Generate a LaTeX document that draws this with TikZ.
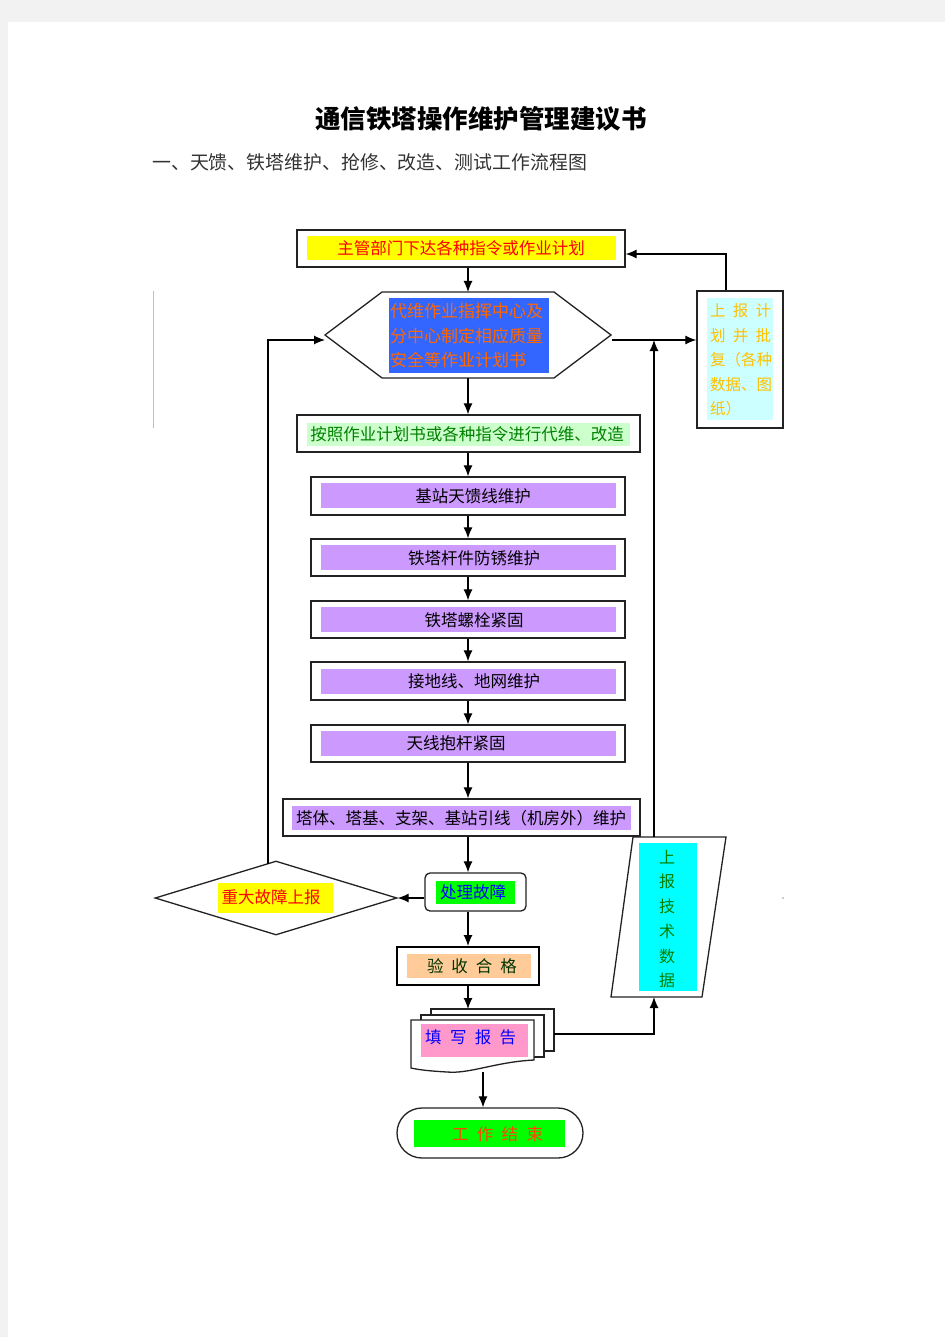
\documentclass[tikz,border=0pt]{standalone}
\usepackage{fontspec}
\setmainfont{Noto Sans CJK SC}
\usetikzlibrary{arrows.meta,shapes.geometric}
\definecolor{bggrey}{HTML}{F2F2F2}
\definecolor{cyellow}{HTML}{FFFF00}
\definecolor{cblue}{HTML}{3366FF}
\definecolor{corange}{HTML}{FF6600}
\definecolor{clcyan}{HTML}{CCFFFF}
\definecolor{cgold}{HTML}{FFC000}
\definecolor{clgreen}{HTML}{CCFFCC}
\definecolor{cgreen}{HTML}{008000}
\definecolor{cpurple}{HTML}{CC99FF}
\definecolor{cpeach}{HTML}{FFCC99}
\definecolor{cdkgreen}{HTML}{003300}
\definecolor{cpink}{HTML}{FF99CC}
\definecolor{ctblue}{HTML}{0000FF}
\definecolor{cbright}{HTML}{00FF00}
\definecolor{ccyan}{HTML}{00FFFF}
\definecolor{cendtxt}{HTML}{FF4400}
\definecolor{cline}{HTML}{222222}
\begin{document}
\begin{tikzpicture}[x=1pt,y=-1pt,
  outer/.style={draw=cline, line width=1.3pt, fill=white, inner sep=0pt},
  txt/.style={inner sep=0pt, font=\fontsize{16.5}{18}\selectfont},
  arr/.style={draw=black, line width=1.2pt, -{Latex[length=11pt,width=9pt]}},
  link/.style={draw=black, line width=1.2pt}]
\useasboundingbox (0,0) rectangle (945,1337);
\fill[bggrey] (0,0) rectangle (945,1337);
\fill[white] (8,22) rectangle (945,1337);

% title
\node[inner sep=0pt, font=\fontsize{25.5}{28}\selectfont\bfseries] (title) at (481,119) {通信铁塔操作维护管理建议书};
\node[inner sep=0pt, anchor=west, text=black!80, font=\fontsize{18.9}{21}\selectfont] (sub) at (152,162) {一、天馈、铁塔维护、抢修、改造、测试工作流程图};

% decorative grey line
\draw[black!25, line width=0.8pt] (153,291) -- (153,428);
\fill[black!40] (783,898) circle (0.8);

\coordinate (axis) at (468,0);

% box 1
\node[outer, minimum width=328, minimum height=37] (b1) at (461,248.5) {};
\fill[cyellow] (307,236) rectangle (616,260);
\node[txt, text=red] (t1) at (461,248) {主管部门下达各种指令或作业计划};

% hexagon
\draw[draw=cline, line width=1.3pt, fill=white] (325,335) -- (382,292) -- (554,292) -- (611,335) -- (554,378) -- (382,378) -- cycle;
\coordinate (hexT) at (468,292);
\coordinate (hexB) at (468,378);
\coordinate (hexL) at (325,340);
\coordinate (hexR) at (612,340);
\fill[cblue] (389,298) rectangle (549,373);
\node[txt, anchor=west, text=corange, font=\fontsize{17}{18}\selectfont] (h1) at (390,311) {代维作业指挥中心及};
\node[txt, anchor=west, text=corange, font=\fontsize{17}{18}\selectfont] (h2) at (390,336) {分中心制定相应质量};
\node[txt, anchor=west, text=corange, font=\fontsize{17}{18}\selectfont] (h3) at (390,360) {安全等作业计划书};

% right box
\node[outer, minimum width=86, minimum height=137] (rb) at (740,359.5) {};
\fill[clcyan] (707,298) rectangle (773,420);
\begin{scope}[every node/.style={txt, anchor=west, text=cgold, font=\fontsize{15.5}{17}\selectfont}]
\node (r1) at (710,311) {\makebox[61pt][s]{上\hfill 报\hfill 计}};
\node (r2) at (710,336) {\makebox[61pt][s]{划\hfill 并\hfill 批}};
\node (r3) at (710,360) {复（各种};
\node (r4) at (710,385) {数据、图};
\node (r5) at (710,409) {纸）};
\end{scope}

% box A
\node[outer, minimum width=343, minimum height=37] (bA) at (468.5,433.5) {};
\fill[clgreen] (307,423) rectangle (630,446);
\node[txt, text=cgreen] (tA) at (467,434) {按照作业计划书或各种指令进行代维、改造};

% purple boxes
\node[outer, minimum width=314, minimum height=38] (b2) at (468,496) {};
\fill[cpurple] (321,483) rectangle (616,508);
\node[txt] (t2) at (473,496) {基站天馈线维护};

\node[outer, minimum width=314, minimum height=37] (b3) at (468,557.5) {};
\fill[cpurple] (321,545) rectangle (616,570);
\node[txt] (t3) at (474,558) {铁塔杆件防锈维护};

\node[outer, minimum width=314, minimum height=37] (b4) at (468,619.5) {};
\fill[cpurple] (321,607) rectangle (616,632);
\node[txt] (t4) at (474,620) {铁塔螺栓紧固};

\node[outer, minimum width=314, minimum height=38] (b5) at (468,681) {};
\fill[cpurple] (321,669) rectangle (616,694);
\node[txt] (t5) at (474,681) {接地线、地网维护};

\node[outer, minimum width=314, minimum height=37] (b6) at (468,743.5) {};
\fill[cpurple] (321,731) rectangle (616,756);
\node[txt] (t6) at (456,743) {天线抱杆紧固};

\node[outer, minimum width=357, minimum height=37] (b7) at (461.5,817.5) {};
\fill[cpurple] (292,806) rectangle (631,830);
\node[txt] (t7) at (461,818) {塔体、塔基、支架、基站引线（机房外）维护};

% process fault
\node[outer, rounded corners=5pt, minimum width=101, minimum height=38] (proc) at (475.5,892) {};
\fill[cbright] (436,881) rectangle (515,904);
\node[txt, text=ctblue] (tp) at (473,892) {处理故障};

% diamond
\node[draw=cline, line width=1.3pt, fill=white, diamond, aspect=3.27, minimum width=242, minimum height=74, inner sep=0pt] (dia) at (276,898) {};
\fill[cyellow] (218,883) rectangle (333,913);
\node[txt, text=red] (td) at (271,897) {重大故障上报};

% acceptance
\node[draw=black, line width=2pt, fill=white, minimum width=142, minimum height=38, inner sep=0pt] (acc) at (468,966) {};
\fill[cpeach] (407,954) rectangle (531,978);
\node[txt, text=cdkgreen] (ta) at (472,966) {\makebox[90pt][s]{验\hfill 收\hfill 合\hfill 格}};

% report (multi document)
\node[outer, minimum width=123, minimum height=42] (rep3) at (492.5,1030) {};
\node[outer, minimum width=123, minimum height=42] (rep2) at (482.5,1036) {};
\draw[draw=cline, line width=1.3pt, fill=white] (411,1020) -- (534,1020) -- (534,1060) .. controls (495,1062) and (470,1074) .. (447,1072) .. controls (430,1071) and (420,1070) .. (411,1068) -- cycle;
\coordinate (repTop) at (468,1009);
\coordinate (repR) at (554,1034);
\coordinate (repB) at (483,1072);
\fill[cpink] (421,1024) rectangle (528,1057);
\node[txt, anchor=west, text=ctblue] (tr) at (425,1037) {\makebox[91pt][s]{填\hfill 写\hfill 报\hfill 告}};

% end
\node[outer, rounded corners=25pt, minimum width=186, minimum height=50] (endn) at (490,1133) {};
\fill[cbright] (414,1120) rectangle (565,1147);
\node[txt, text=cendtxt] (te) at (497.5,1134) {\makebox[91pt][s]{工\hfill 作\hfill 结\hfill 束}};

% parallelogram
\draw[draw=cline, line width=1.3pt, fill=white] (633,837) -- (726,837) -- (702,997) -- (611,997) -- cycle;
\coordinate (parTop) at (654,837);
\coordinate (parBot) at (654,997);
\coordinate (jR) at (654,340);
\fill[ccyan] (639,843) rectangle (697,991);
\begin{scope}[every node/.style={txt, text=cgreen, font=\fontsize{16}{17}\selectfont}]
\node (p1) at (667,857) {上};
\node (p2) at (667,881) {报};
\node (p3) at (667,906) {技};
\node (p4) at (667,931) {术};
\node (p5) at (667,956) {数};
\node (p6) at (667,980) {据};
\end{scope}

% connectors
\draw[arr] (b1.south -| hexT) -- (hexT);
\draw[arr] (hexB) -- (bA.north -| hexB);
\draw[arr] (bA.south -| axis) -- (b2.north);
\draw[arr] (b2.south) -- (b3.north);
\draw[arr] (b3.south) -- (b4.north);
\draw[arr] (b4.south) -- (b5.north);
\draw[arr] (b5.south) -- (b6.north);
\draw[arr] (b6.south) -- (b7.north -| axis);
\draw[arr] (b7.south -| axis) -- (proc.north -| axis);
\draw[arr] (proc.west |- dia.east) -- (dia.east);
\draw[arr] (proc.south -| axis) -- (acc.north);
\draw[arr] (acc.south) -- (repTop);
\draw[arr] (repB) -- (endn.north -| repB);
\draw[arr] (repR) -| (parBot);
\draw[arr] (parTop) -- (jR);
\draw[arr] (hexR) -- (rb.west |- hexR);
\draw[arr] (rb.north -| 726,0) |- (b1.east |- 0,254);
\coordinate (loopS) at (268,864);
\draw[arr] (loopS) |- (hexL);
\end{tikzpicture}
\end{document}
